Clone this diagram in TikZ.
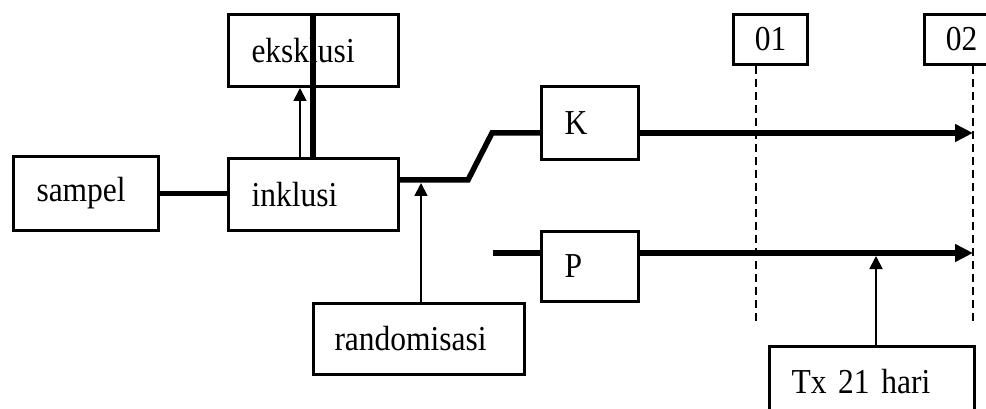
\documentclass[tikz,border=0pt]{standalone}
\usepackage{fontspec}
\setmainfont{Liberation Serif}[FakeStretch=0.9]
\usetikzlibrary{arrows.meta}
\begin{document}
\begin{tikzpicture}[x=1pt,y=-1pt,
  box/.style={draw, line width=3pt, rectangle, anchor=north west, inner sep=0pt, align=left, font=\fontsize{35}{40}\selectfont},
  cbox/.style={box, align=center},
  thickline/.style={line width=5.5pt},
  thickarrow/.style={line width=5.5pt, -{Triangle[width=17pt,length=18pt]}},
  thinarrow/.style={line width=1.8pt, -{Triangle[width=13pt,length=13pt]}},
  vdashed/.style={line width=2.2pt, dash pattern=on 8pt off 5pt}
]
\useasboundingbox (0,0) rectangle (986,409);
\clip (0,0) rectangle (986,409);

\node[box, minimum height=74pt, text width=145pt] (sampel) at (12,155) {\hspace*{23pt}sampel};
\node[box, minimum height=72pt, text width=170pt] (inklusi) at (227,157) {\hspace*{23pt}inklusi};
\node[box, minimum height=72pt, text width=170pt] (ekskl) at (227,13) {\hspace*{23pt}eksklusi};
\node[box, minimum height=73pt, text width=97pt] (K) at (540,85) {\hspace*{23pt}K};
\node[box, minimum height=70pt, text width=97pt] (P) at (540,230) {\hspace*{23pt}P};
\node[box, minimum height=71pt, text width=211pt] (rand) at (312,302) {\hspace*{21pt}randomisasi};
\node[cbox, minimum height=50pt, text width=74pt] (o1) at (732,13) {01};
\node[cbox, minimum height=50pt, text width=74pt] (o2) at (923,13) {02};
\node[box, minimum height=70pt, text width=205pt] (tx) at (768,345) {\hspace*{22pt}Tx 21 hari};

\coordinate (vx) at (313,0);
\coordinate (ax) at (300,0);
\coordinate (r1) at (468,180);
\coordinate (r2) at (492,133);
\coordinate (ry) at (421,183);
\coordinate (pl) at (493,253);
\coordinate (ke) at (973,133);
\coordinate (pe) at (973,253);
\coordinate (txa) at (876,256);
\coordinate (d1) at (756,322);
\coordinate (d2) at (973,322);

\draw[thickline] (sampel.east) -- (sampel.east -| inklusi.west);
\draw[thickline] (vx |- ekskl.north) -- (vx |- inklusi.north);
\draw[thinarrow] (ax |- inklusi.north) -- (ax |- ekskl.south);
\draw[thickline, line join=miter] (inklusi.east |- r1) -- (r1) -- (r2) -- (K.west |- r2);
\draw[thinarrow] (ry |- rand.north) -- (ry);
\draw[thickline] (pl) -- (P.west |- pl);
\draw[thickarrow] (K.east |- ke) -- (ke);
\draw[thickarrow] (P.east |- pe) -- (pe);
\draw[thinarrow] (txa |- tx.north) -- (txa);
\draw[vdashed] (d1 |- o1.south) -- (d1);
\draw[vdashed] (d2 |- o2.south) -- (d2);
\end{tikzpicture}
\end{document}
